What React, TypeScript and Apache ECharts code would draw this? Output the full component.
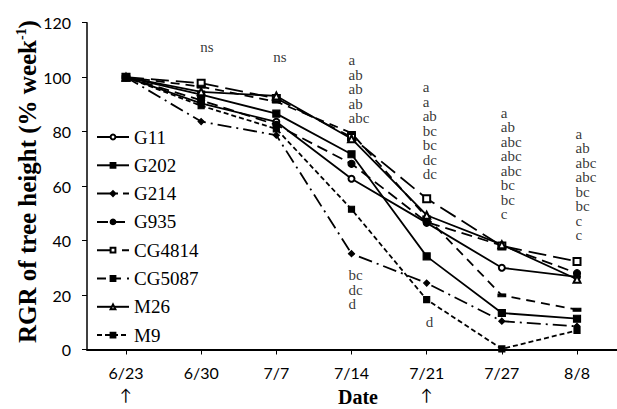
import React, { useEffect, useRef } from "react";
import * as echarts from "echarts";

// ---- data ----
const dates = ["6/23", "6/30", "7/7", "7/14", "7/21", "7/27", "8/8"];
const arrowDates = ["6/23", "7/21"];
const yTicks = [0, 20, 40, 60, 80, 100, 120];

const G11 = [100, 90.4, 83.6, 62.7, 46.5, 30.0, 26.7];
const G202 = [100, 93.6, 86.6, 71.7, 34.2, 13.4, 11.3];
const G214 = [100, 83.7, 78.7, 35.2, 24.4, 10.4, 8.5];
const G935 = [100, 91.5, 82.5, 68.2, 46.8, 38.2, 28.0];
const CG4814 = [100, 97.8, 92.2, 78.0, 55.4, 38.0, 32.3];
const CG5087 = [100, 96.5, 91.0, 79.5, 48.5, 19.9, 14.6];
const M26 = [100, 94.6, 93.1, 77.4, 49.3, 38.5, 25.8];
const M9 = [100, 89.5, 81.0, 51.5, 18.3, 0.2, 7.0];

const sig630 = ["ns"];
const sig707 = ["ns"];
const sig714Top = ["a", "ab", "ab", "ab", "abc"];
const sig714Low = ["bc", "dc", "d"];
const sig721Top = ["a", "a", "ab", "bc", "bc", "dc", "dc"];
const sig721Low = ["d"];
const sig727 = ["a", "ab", "abc", "abc", "abc", "bc", "bc", "c"];
const sig808 = ["a", "ab", "abc", "abc", "bc", "bc", "c", "c"];

const yTitle = "RGR of tree height (% week";
const ySup = "-1";
const xTitle = "Date";

export default function App() {
  const ref = useRef<HTMLDivElement>(null);

  useEffect(() => {
    const chart = echarts.init(ref.current!, null, { renderer: "svg" });
    const serif = '"Liberation Serif", "Times New Roman", serif';
    const sans = 'Lato, "Liberation Sans", sans-serif';

    const lineDefs = [
      { name: "G11", data: G11, symbol: "emptyCircle", size: 6, dash: "solid" as any },
      { name: "G202", data: G202, symbol: "rect", size: 7, dash: "solid" as any },
      { name: "G214", data: G214, symbol: "diamond", size: 6, dash: [14, 5, 2, 5] },
      { name: "G935", data: G935, symbol: "circle", size: 7, dash: [11, 6] },
      { name: "CG4814", data: CG4814, symbol: "emptyRect", size: 7, dash: [18, 7] },
      { name: "CG5087", data: CG5087, symbol: "path://M0,0H10V3H0Z", size: [7, 3], dash: [9, 6] },
      { name: "M26", data: M26, symbol: "emptyTriangle", size: 7, dash: "solid" as any },
      { name: "M9", data: M9, symbol: "rect", size: 6, dash: [5, 3] },
    ];

    const annotations = [
      { date: "6/30", at: 111.1, dx: -1, letters: sig630 },
      { date: "7/7", at: 107.4, dx: -3, letters: sig707 },
      { date: "7/14", at: 95.5, dx: -3, letters: sig714Top },
      { date: "7/14", at: 22.0, dx: -3, letters: sig714Low },
      { date: "7/21", at: 80.4, dx: -4, letters: sig721Top },
      { date: "7/21", at: 10.1, dx: -1, letters: sig721Low },
      { date: "7/27", at: 68.3, dx: -1, letters: sig727 },
      { date: "8/8", at: 60.6, dx: -1.5, letters: sig808 },
    ];

    const top = 22.7;
    const bottom = 59.5;

    const option: any = {
      animation: false,
      backgroundColor: "#fff",
      grid: [
        { left: 87, right: 0, top, bottom },
        { left: 88.4, width: 526.2, top, bottom },
      ],
      xAxis: [
        {
          gridIndex: 0,
          type: "value",
          min: 0,
          max: 1,
          axisLine: { show: true, lineStyle: { color: "#000", width: 2 } },
          axisTick: { show: false },
          axisLabel: { show: false },
          splitLine: { show: false },
        },
        {
          gridIndex: 1,
          type: "category",
          data: dates,
          boundaryGap: true,
          axisLine: { show: false },
          axisTick: {
            show: true,
            alignWithLabel: true,
            length: 5,
            lineStyle: { color: "#000", width: 1 },
          },
          axisLabel: {
            color: "#000",
            fontFamily: sans,
            fontSize: 16,
            lineHeight: 22,
            margin: 12,
            formatter: (v: string) => (arrowDates.includes(v) ? v + "\n↑" : v),
          },
        },
      ],
      yAxis: [
        {
          gridIndex: 0,
          type: "value",
          min: yTicks[0],
          max: yTicks[yTicks.length - 1],
          interval: yTicks[1] - yTicks[0],
          axisLine: { show: true, lineStyle: { color: "#000", width: 1.5 } },
          axisTick: { show: true, length: 5, lineStyle: { color: "#000" } },
          axisLabel: { color: "#000", fontFamily: sans, fontSize: 16, margin: 16 },
          splitLine: { show: false },
        },
        {
          gridIndex: 1,
          type: "value",
          min: yTicks[0],
          max: yTicks[yTicks.length - 1],
          show: false,
          splitLine: { show: false },
        },
      ],
      legend: {
        orient: "vertical",
        left: 96,
        top: 127.5,
        itemWidth: 32,
        itemHeight: 6,
        itemGap: 9.3,
        padding: 0,
        data: lineDefs.map((d) => d.name),
        textStyle: { color: "#000", fontFamily: serif, fontSize: 19, lineHeight: 19 },
      },
      series: [
        ...lineDefs.map((d) => ({
          name: d.name,
          type: "line",
          xAxisIndex: 1,
          yAxisIndex: 1,
          data: d.data,
          symbol: d.symbol,
          symbolSize: d.size,
          showAllSymbol: true,
          lineStyle: { color: "#000", width: 1.8, type: d.dash },
          itemStyle: { color: "#000", borderColor: "#000", borderWidth: 1.2 },
          z: 3,
        })),
        {
          type: "scatter",
          name: "letters",
          xAxisIndex: 1,
          yAxisIndex: 1,
          symbolSize: 1,
          silent: true,
          itemStyle: { color: "rgba(0,0,0,0)" },
          z: 5,
          data: annotations.map((a) => ({
            value: [a.date, a.at],
            name: a.letters.join("\n"),
            label: { offset: [a.dx, 0] },
          })),
          label: {
            show: true,
            position: "inside",
            align: "left",
            verticalAlign: "middle",
            formatter: (p: any) => p.name,
            fontFamily: serif,
            fontSize: 15,
            lineHeight: 14.5,
            color: "#000",
          },
        },
      ],
      graphic: [
        {
          type: "text",
          x: 27,
          y: 181.5,
          rotation: Math.PI / 2,
          style: {
            text: yTitle + "{sup|" + ySup + "})",
            fontFamily: serif,
            fontWeight: "bold",
            fontSize: 25,
            fill: "#000",
            align: "center",
            verticalAlign: "middle",
            rich: {
              sup: {
                fontFamily: serif,
                fontWeight: "bold",
                fontSize: 14,
                verticalAlign: "top",
                lineHeight: 26,
              },
            },
          },
        },
        {
          type: "text",
          x: 358,
          y: 396.5,
          style: {
            text: xTitle,
            fontFamily: serif,
            fontWeight: "bold",
            fontSize: 20,
            fill: "#000",
            align: "center",
            verticalAlign: "middle",
          },
        },
      ],
    };

    chart.setOption(option);
    return () => chart.dispose();
  }, []);

  return (
    <div
      ref={ref}
      style={{ position: "fixed", left: 0, top: 0, width: 617, height: 409, background: "#fff" }}
    />
  );
}
